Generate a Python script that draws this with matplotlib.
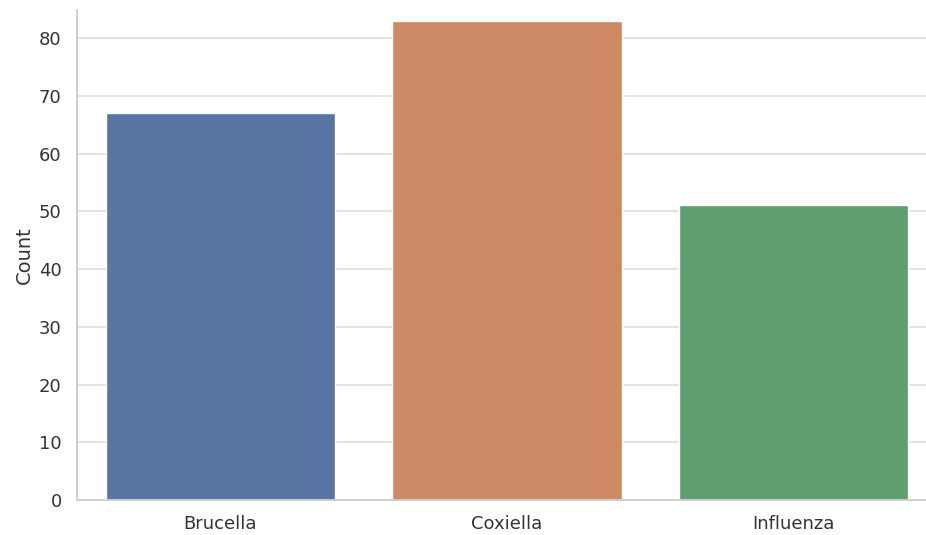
import matplotlib
matplotlib.use("Agg")
import matplotlib.pyplot as plt
import seaborn as sns
import pandas as pd

categories = ["Brucella", "Coxiella", "Influenza"]
counts = [67, 83, 51]

sns.set_theme(style="whitegrid", rc={
    "grid.color": "#e3e3e3",
    "grid.linewidth": 1.4,
    "axes.edgecolor": "#cfcfcf",
    "axes.linewidth": 1.4,
    "text.color": "#333333",
    "axes.labelcolor": "#333333",
    "xtick.color": "#333333",
    "ytick.color": "#333333",
})
plt.rcParams['font.family'] = ['DejaVu Sans']

fig = plt.figure(figsize=(9.26, 5.35), dpi=100)
W, H = 926, 535
left, bottom = 77 / W, (H - 500) / H
right_px, top_px = 937, 10
ax = fig.add_axes([left, bottom, right_px / W - left, (500 - top_px) / H])

df = pd.DataFrame({"pathogen": categories, "count": counts})
sns.barplot(data=df, x="pathogen", y="count", hue="pathogen",
            palette="deep", ax=ax, legend=False)
ax.set_xlabel("")
ax.set_ylabel("Count", fontsize=14, labelpad=4)
ax.tick_params(axis="both", labelsize=13, pad=5)
sns.despine(ax=ax)
ax.set_ylim(0, 84.85)

fig.savefig("out.png", dpi=100)
